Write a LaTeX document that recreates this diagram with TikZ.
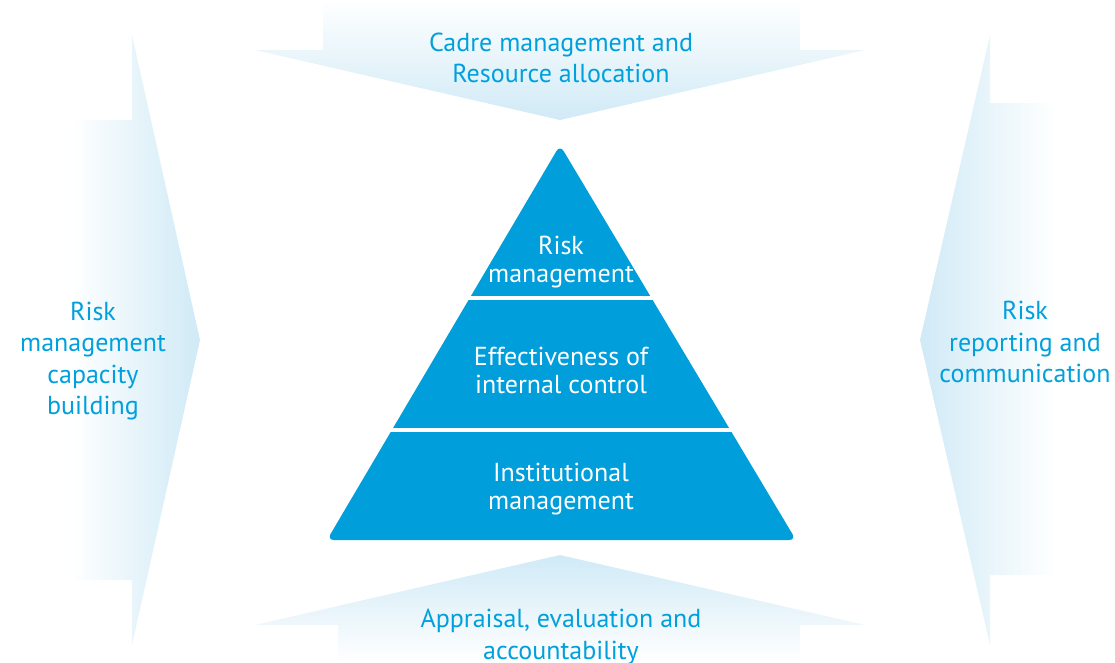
\documentclass[tikz,border=0pt]{standalone}
\usepackage{fontspec}
\setmainfont{PT Sans}
\definecolor{pyr}{RGB}{0,158,218}
\definecolor{lightarr}{RGB}{208,234,246}
\definecolor{txtblue}{RGB}{0,160,220}
\begin{document}
\begin{tikzpicture}[x=1pt,y=-1pt,
  outtxt/.style={text=txtblue,align=center,font=\fontsize{26}{31.5}\selectfont,inner sep=0pt},
  intxt/.style={text=white,align=center,font=\fontsize{26}{28}\selectfont,inner sep=0pt},
  sep/.style={white,line width=4pt}]
\useasboundingbox (0,0) rectangle (1115,662);
% top arrow
\shade[top color=white,bottom color=lightarr]
  (323,0) -- (800,0) -- (800,50) -- (865,50) -- (560,120) -- (255,50) -- (323,50) -- cycle;
% bottom arrow
\shade[bottom color=white,top color=lightarr]
  (338,662) -- (800,662) -- (800,625) -- (865,625) -- (560,555) -- (255,625) -- (338,625) -- cycle;
% left arrow
\shade[left color=white,right color=lightarr]
  (70,120) -- (132,120) -- (132,35) -- (200,340) -- (132,645) -- (132,580) -- (70,580) -- cycle;
% right arrow
\shade[right color=white,left color=lightarr]
  (1055,103) -- (990,103) -- (990,35) -- (920,340) -- (990,645) -- (990,575) -- (1055,575) -- cycle;
% pyramid
\fill[pyr,rounded corners=7pt] (560,145) -- (796,540) -- (327,540) -- cycle;
\coordinate (s1l) at (440,298); \coordinate (s1r) at (680,298);
\coordinate (s2l) at (360,430); \coordinate (s2r) at (760,430);
\draw[sep] (s1l) -- (s1r);
\draw[sep] (s2l) -- (s2r);
% texts
\node[intxt] (t1) at (561,262) {Risk\\management};
\node[intxt] (t2) at (561,370) {Effectiveness of\\internal control};
\node[intxt] (t3) at (561,489) {Institutional\\management};
\node[outtxt] (top) at (561,58) {Cadre management and\\Resource allocation};
\node[outtxt] (bot) at (561,637) {Appraisal, evaluation and\\accountability};
\node[outtxt] (lft) at (93,361) {Risk\\management\\capacity\\building};
\node[outtxt] (rgt) at (1025,342) {Risk\\reporting and\\communication};
\end{tikzpicture}
\end{document}
